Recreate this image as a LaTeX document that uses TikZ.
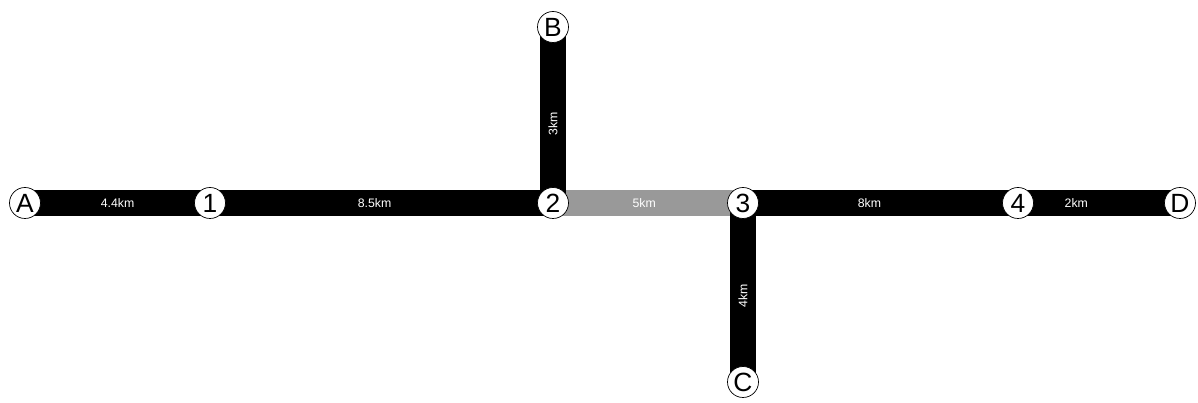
\documentclass[tikz,border=0pt]{standalone}
\usepackage{fontspec}
\setmainfont{Liberation Sans}
\usetikzlibrary{backgrounds}

\tikzset{
  station/.style={circle, draw=black, thin, fill=white, inner sep=0pt,
    minimum size=0.62cm, font=\fontsize{15}{15}\selectfont},
  track/.style={line width=0.53cm, black},
  dist/.style={text=white, font=\fontsize{7}{7}\selectfont, inner sep=1pt}
}

\begin{document}
\begin{tikzpicture}
  \useasboundingbox (0, 0) rectangle (23.96, 8.06);
  % stations
  \node[station] (A) at (0.50, 4.00) {A};
  \node[station] (s1) at (4.20, 4.00) {1};
  \node[station] (s2) at (11.06, 4.00) {2};
  \node[station] (s3) at (14.86, 4.00) {3};
  \node[station] (s4) at (20.36, 4.00) {4};
  \node[station] (D) at (23.60, 4.00) {D};
  \node[station] (B) at (11.06, 7.52) {B};
  \node[station] (C) at (14.86, 0.42) {C};
  % tracks
  \begin{scope}[on background layer]
    \draw[track] (A.center) -- (s1.center)
      node[dist, pos=0.50] (lA1) {4.4km};
    \draw[track] (s1.center) -- (s2.center)
      node[dist, pos=0.48] (l12) {8.5km};
    \draw[track, black!40] (s2.center) -- (s3.center)
      node[dist, pos=0.48] (l23) {5km};
    \draw[track] (s3.center) -- (s4.center)
      node[dist, pos=0.46] (l34) {8km};
    \draw[track] (s4.center) -- (D.center)
      node[dist, pos=0.36] (l4D) {2km};
    \draw[track] (B.center) -- (s2.center)
      node[dist, pos=0.55, rotate=90] (lB2) {3km};
    \draw[track] (s3.center) -- (C.center)
      node[dist, pos=0.52, rotate=90] (l3C) {4km};
  \end{scope}
\end{tikzpicture}
\end{document}
